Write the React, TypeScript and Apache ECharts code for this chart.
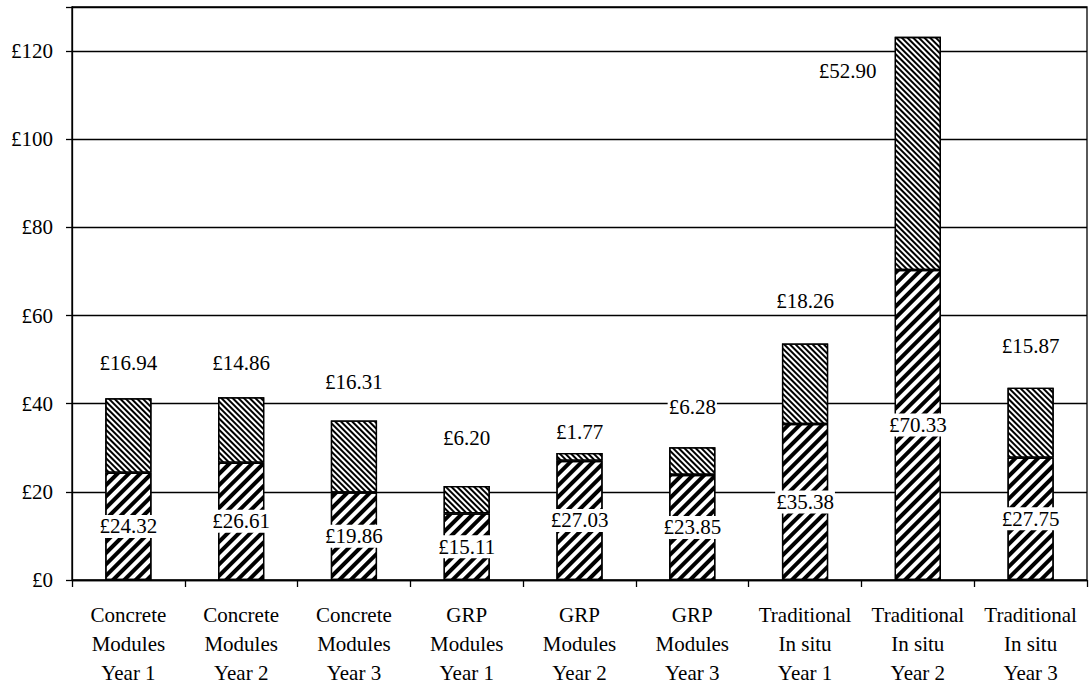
import React, { useEffect, useRef } from "react";
import * as echarts from "echarts";

const categories = [
  "Concrete\nModules\nYear 1",
  "Concrete\nModules\nYear 2",
  "Concrete\nModules\nYear 3",
  "GRP\nModules\nYear 1",
  "GRP\nModules\nYear 2",
  "GRP\nModules\nYear 3",
  "Traditional\nIn situ\nYear 1",
  "Traditional\nIn situ\nYear 2",
  "Traditional\nIn situ\nYear 3",
];
const baseValues = [24.32, 26.61, 19.86, 15.11, 27.03, 23.85, 35.38, 70.33, 27.75];
const extraValues = [16.94, 14.86, 16.31, 6.2, 1.77, 6.28, 18.26, 52.9, 15.87];
const yTicks = [0, 20, 40, 60, 80, 100, 120];

// label layout tweaks for the upper series (distance above bar top; null = placed left of bar)
const topLabelDistance: (number | null)[] = [23.5, 22.5, 27.5, 36.5, 9.5, 28.5, 31.5, null, 30.5];

const FONT = "'Times New Roman', 'Liberation Serif', serif";
const FS = 21;

export default function App() {
  const ref = useRef<HTMLDivElement>(null);
  useEffect(() => {
    if (!ref.current) return;
    const chart = echarts.init(ref.current, undefined, { renderer: "svg" });
    const fmt = (v: number) => "£" + v.toFixed(2);
    const option = {
      animation: false,
      backgroundColor: "#fff",
      textStyle: { fontFamily: FONT },
      grid: {
        left: 72,
        right: 4,
        top: 7,
        bottom: 108,
        show: true,
        borderColor: "#000",
        borderWidth: 1.3,
      },
      xAxis: {
        type: "category",
        data: categories,
        axisLine: { lineStyle: { color: "#000", width: 1.3 } },
        axisTick: { show: true, length: 7, lineStyle: { color: "#000", width: 1.3 } },
        axisLabel: {
          interval: 0,
          color: "#000",
          fontFamily: FONT,
          fontSize: FS,
          lineHeight: 29,
          margin: 20,
        },
      },
      yAxis: {
        type: "value",
        min: 0,
        max: 130,
        interval: 20,
        axisLine: { show: true, lineStyle: { color: "#000", width: 1.3 } },
        axisTick: { show: true, length: 6, lineStyle: { color: "#000", width: 1.3 } },
        splitLine: { show: true, lineStyle: { color: "#000", width: 1.3 } },
        axisLabel: {
          color: "#000",
          fontFamily: FONT,
          fontSize: FS,
          margin: 19,
          formatter: (v: number) => (yTicks.indexOf(v) >= 0 ? "£" + v : ""),
        },
      },
      series: [
        {
          type: "bar",
          stack: "total",
          barWidth: "41%",
          data: baseValues,
          itemStyle: {
            color: "#fff",
            borderColor: "#000",
            borderWidth: 1.3,
            decal: {
              symbol: "rect",
              symbolSize: 1,
              dashArrayX: [1, 0],
              dashArrayY: [4, 4],
              rotation: -Math.PI / 4,
              color: "#000",
              backgroundColor: "#fff",
            },
          },
          label: {
            show: true,
            position: "inside",
            color: "#000",
            fontFamily: FONT,
            fontSize: FS,
            backgroundColor: "#fff",
            padding: [1, 1],
            formatter: (p: any) => fmt(p.value),
          },
        },
        {
          type: "bar",
          stack: "total",
          barWidth: "41%",
          data: extraValues.map((v, i) => {
            const d = topLabelDistance[i];
            return {
              value: v,
              label:
                d === null
                  ? { position: [-47, 34], align: "center", verticalAlign: "middle" }
                  : { position: "top", distance: d },
            };
          }),
          itemStyle: {
            color: "#fff",
            borderColor: "#000",
            borderWidth: 1.3,
            decal: {
              symbol: "rect",
              symbolSize: 1,
              dashArrayX: [1, 0],
              dashArrayY: [1.5, 2],
              rotation: Math.PI / 4,
              color: "#000",
              backgroundColor: "#fff",
            },
          },
          label: {
            show: true,
            color: "#000",
            fontFamily: FONT,
            fontSize: FS,
            backgroundColor: "#fff",
            padding: [1, 1],
            formatter: (p: any) => fmt(p.value),
          },
        },
      ],
    };
    chart.setOption(option as any);
    return () => chart.dispose();
  }, []);
  return (
    <div
      ref={ref}
      style={{ position: "absolute", left: 0, top: 0, width: 1091, height: 688 }}
    />
  );
}
